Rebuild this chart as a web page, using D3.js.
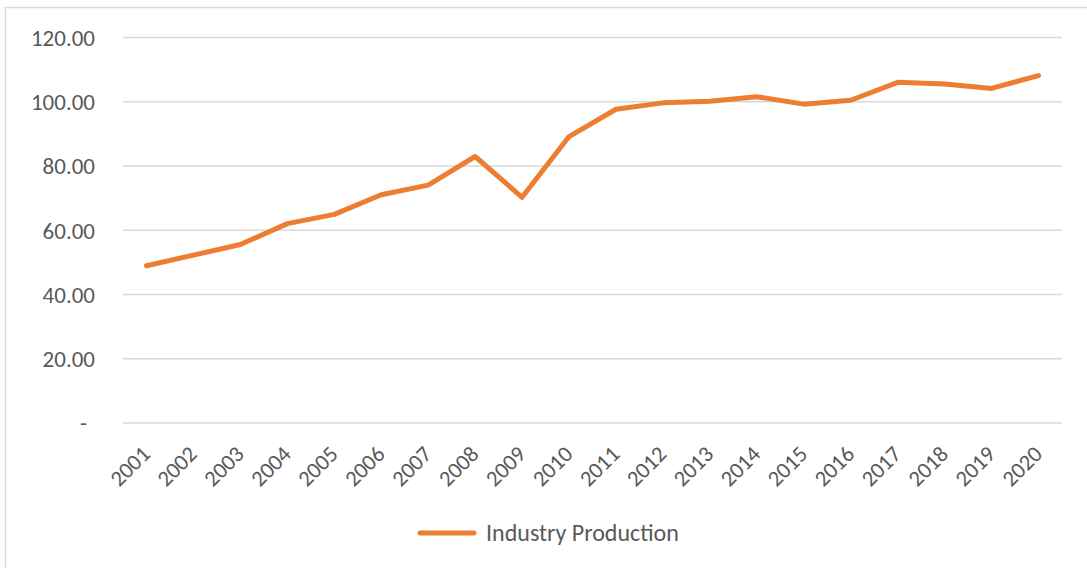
<!DOCTYPE html>
<html>
<head>
<meta charset="utf-8">
<script src="https://cdn.jsdelivr.net/npm/d3@7"></script>
<style>
  html, body { margin: 0; padding: 0; background: #ffffff; }
  svg { display: block; }
  text { font-family: Carlito, Calibri, Lato, "Open Sans", sans-serif; fill: #595959; }
</style>
</head>
<body>
<svg id="chart" width="1087" height="568"></svg>
<script>
// Annual industry production index, 2001–2020
const years = ["2001","2002","2003","2004","2005","2006","2007","2008","2009","2010",
               "2011","2012","2013","2014","2015","2016","2017","2018","2019","2020"];
const production = [48.8, 52.1, 55.4, 61.9, 64.8, 70.9, 73.9, 82.8, 70.1, 89.0,
                    97.5, 99.5, 100.0, 101.4, 99.1, 100.3, 105.9, 105.4, 104.0, 108.0];
const yTicks = [0, 20, 40, 60, 80, 100, 120];
const seriesName = "Industry Production";

const svg = d3.select("#chart");
const W = 1087, H = 568;
const plot = { left: 123, right: 1062, top: 37, bottom: 422.5 };
const lineColor = "#ED7D31";
const fontSize = 23;
const fontStack = "Carlito, Calibri, Lato, 'Open Sans', sans-serif";

// chart frame (runs off the right and bottom edges)
svg.append("rect")
  .attr("x", 5.5).attr("y", 7.5)
  .attr("width", W + 10).attr("height", H + 10)
  .attr("fill", "#ffffff")
  .attr("stroke", "#d9d9d9").attr("stroke-width", 1.5);

const x = d3.scaleBand().domain(years).range([plot.left, plot.right]);
const y = d3.scaleLinear().domain([0, 120]).range([plot.bottom, plot.top]);

// horizontal gridlines + value labels
const yAxis = d3.axisLeft(y)
  .tickValues(yTicks)
  .tickSize(-(plot.right - plot.left))
  .tickPadding(28)
  .tickFormat(d => d === 0 ? "-" : d3.format(".2f")(d));

const gy = svg.append("g")
  .attr("transform", `translate(${plot.left},0)`)
  .call(yAxis);
gy.select(".domain").remove();
gy.selectAll(".tick line").attr("stroke", "#d9d9d9").attr("stroke-width", 1.5);
gy.selectAll(".tick text")
  .attr("font-size", fontSize)
  .attr("fill", "#595959")
  .attr("dy", "0.36em")
  .style("font-family", fontStack);
gy.selectAll(".tick text").filter(d => d === 0).attr("dx", -8);

// rotated year labels
const xAxis = d3.axisBottom(x).tickSize(0).tickPadding(0);
const gx = svg.append("g")
  .attr("transform", `translate(0,${plot.bottom})`)
  .call(xAxis);
gx.select(".domain").remove();
gx.selectAll(".tick text")
  .attr("font-size", 22.5)
  .attr("fill", "#595959")
  .attr("text-anchor", "end")
  .attr("dy", null).attr("y", null)
  .attr("transform", "translate(5,33) rotate(-45)")
  .style("font-family", fontStack);

// production line
const line = d3.line()
  .x((d, i) => x(years[i]) + x.bandwidth() / 2)
  .y(d => y(d));

svg.append("path")
  .datum(production)
  .attr("d", line)
  .attr("fill", "none")
  .attr("stroke", lineColor)
  .attr("stroke-width", 5)
  .attr("stroke-linejoin", "round")
  .attr("stroke-linecap", "round");

// legend
const lg = svg.append("g").attr("transform", "translate(420,533)");
lg.append("line")
  .attr("x1", 0).attr("x2", 54).attr("y1", 0).attr("y2", 0)
  .attr("stroke", lineColor).attr("stroke-width", 5)
  .attr("stroke-linecap", "round");
lg.append("text")
  .attr("x", 66).attr("y", 8)
  .attr("font-size", 24)
  .text(seriesName);
</script>
</body>
</html>
